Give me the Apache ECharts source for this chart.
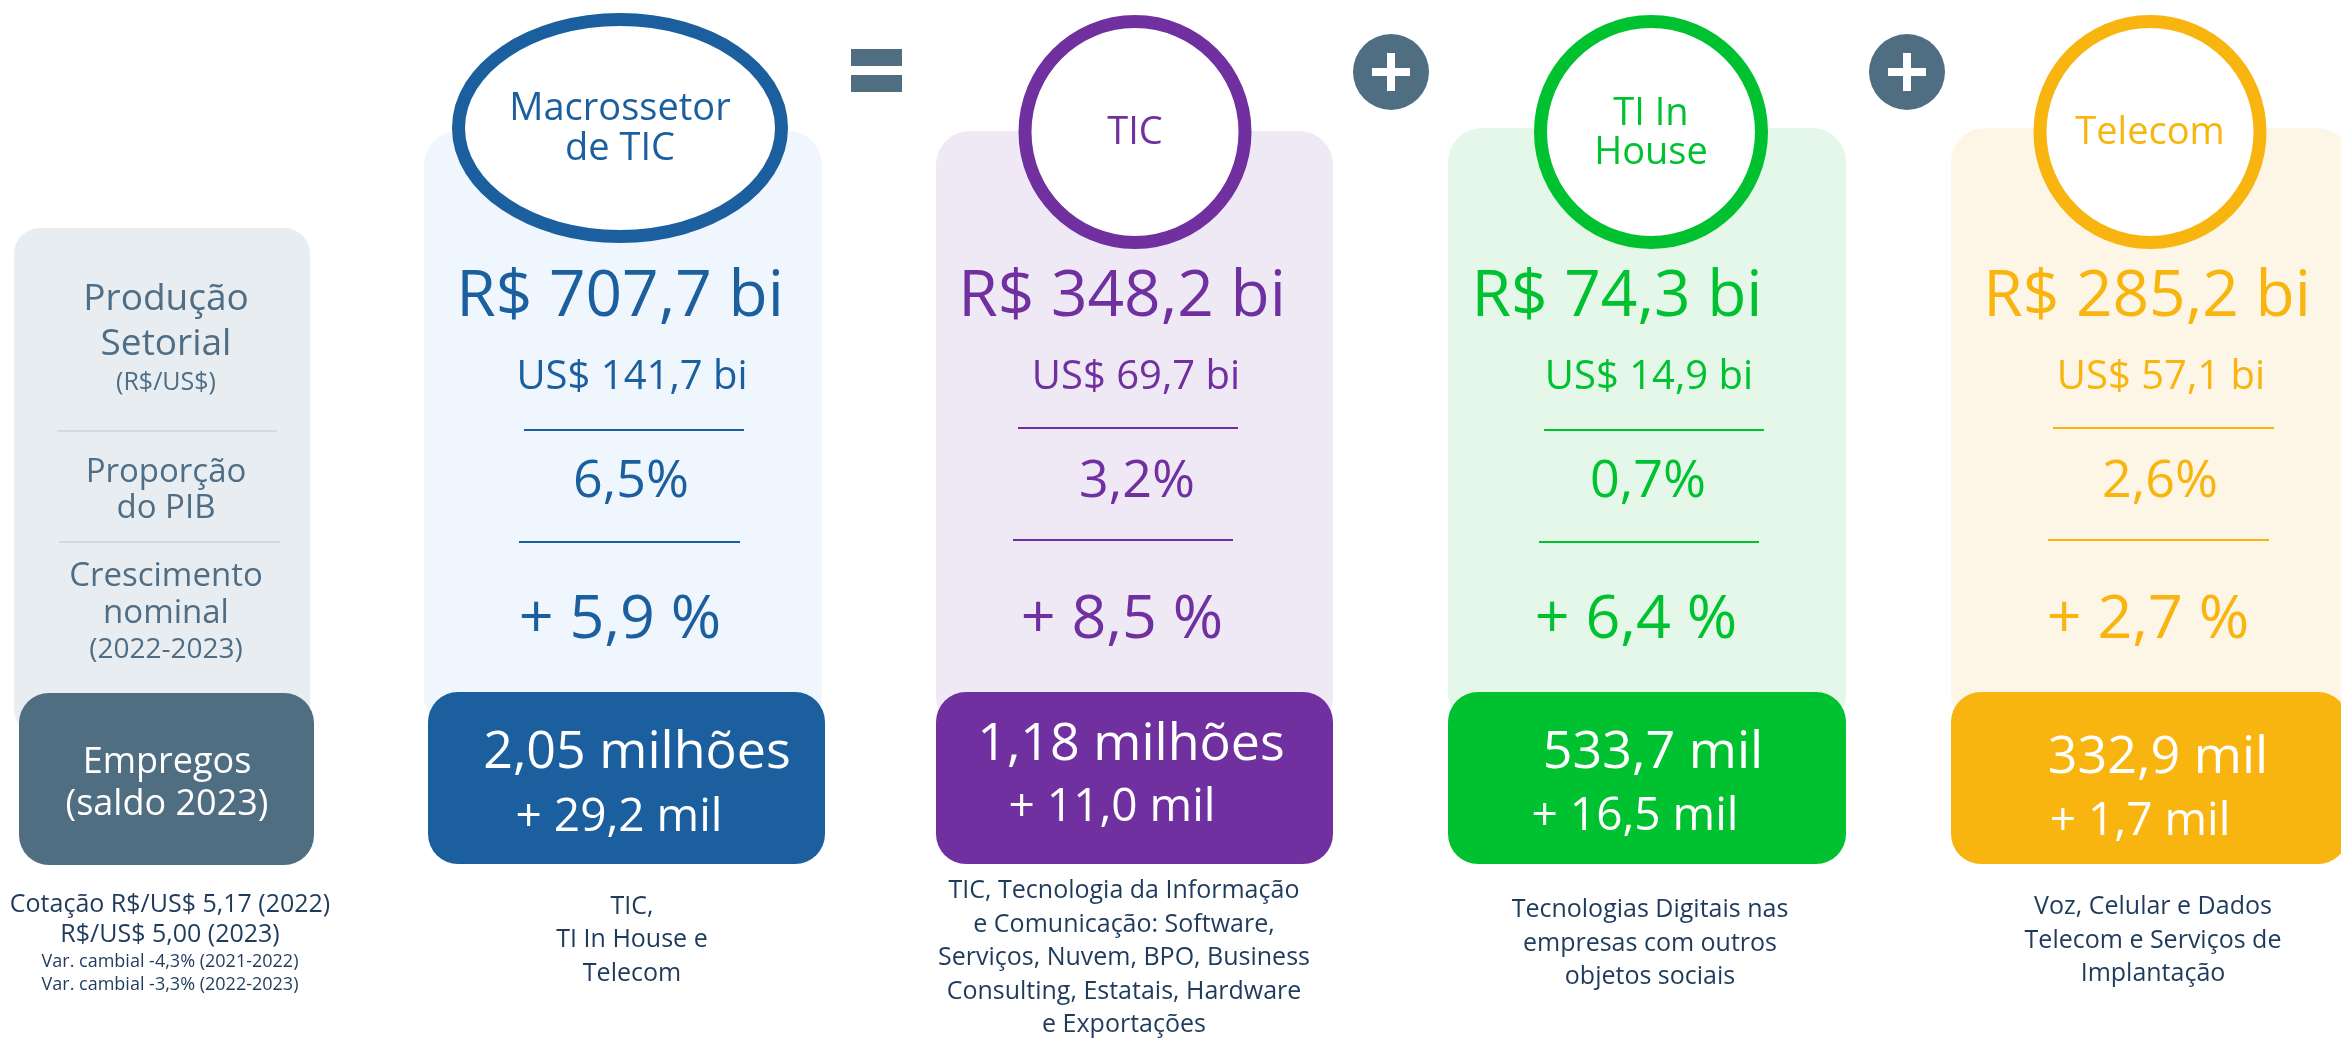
<!DOCTYPE html>
<html>
<head>
<meta charset="utf-8">
<script src="https://cdn.jsdelivr.net/npm/echarts@6/dist/echarts.min.js"></script>
<style>
  html, body { margin: 0; padding: 0; background: #fff; }
  #chart { width: 2341px; height: 1038px; }
</style>
</head>
<body>
<div id="chart"></div>
<script>
// --- data ---
const setores = [['Macrossetor', 'de TIC'], ['TIC'], ['TI In', 'House'], ['Telecom']]
const producaoReais = [707.7, 348.2, 74.3, 285.2]      // R$ bi
const producaoDolares = [141.7, 69.7, 14.9, 57.1]      // US$ bi
const proporcaoPIB = [6.5, 3.2, 0.7, 2.6]              // %
const crescimento = [5.9, 8.5, 6.4, 2.7]               // % (2022-2023)
const empregos = ['2,05 milhões', '1,18 milhões', '533,7 mil', '332,9 mil']
const saldoEmpregos = [29.2, 11.0, 16.5, 1.7]          // mil
const descricoes = [
  ['TIC,', 'TI In House e', 'Telecom'],
  ['TIC, Tecnologia da Informação', 'e Comunicação: Software,', 'Serviços, Nuvem, BPO, Business', 'Consulting, Estatais, Hardware', 'e Exportações'],
  ['Tecnologias Digitais nas', 'empresas com outros', 'objetos sociais'],
  ['Voz, Celular e Dados', 'Telecom e Serviços de', 'Implantação'],
]
const rotulosLinhas = [['Produção', 'Setorial'], '(R$/US$)', ['Proporção', 'do PIB'], ['Crescimento', 'nominal'], '(2022-2023)']
const rotuloEmpregos = ['Empregos', '(saldo 2023)']
const notasCambio = ['Cotação R$/US$ 5,17 (2022)', 'R$/US$ 5,00 (2023)']
const notasVariacao = ['Var. cambial -4,3% (2021-2022)', 'Var. cambial -3,3% (2022-2023)']

// --- styles ---
const cores = ['#1c5f9e', '#7030a0', '#00c130', '#f8b510']
const fundos = ['#f0f6fd', '#efe8f5', '#e5f7e8', '#fdf5e5']
const slate = '#506e82'
const navy = '#1f3b5c'
const FONT = '"Open Sans", "Noto Sans", sans-serif'

// --- layout (pixel positions per column) ---
const layout = [
  { panel: [424, 131, 398], box: [428, 692, 397], ring: [620, 128, 161.5, 108.5], label: [106.5, 146.5],
    rs: 620, us: 632, pib: 631, cr: 620, emp: [637, 749], sal: [619, 815],
    line1: [524, 744, 430], line2: [519, 740, 542], desc: [632, 905] },
  { panel: [936, 131, 397], box: [936, 692, 397], ring: [1135, 132, 110, 110.5], label: [130],
    rs: 1122, us: 1136, pib: 1137, cr: 1122, emp: [1131, 741], sal: [1112, 805],
    line1: [1018, 1238, 428], line2: [1013, 1233, 540], desc: [1124, 889.5] },
  { panel: [1448, 128, 398], box: [1448, 692, 398], ring: [1651, 132, 110.5, 110.5], label: [111, 150.5],
    rs: 1617, us: 1649, pib: 1648, cr: 1636, emp: [1653, 749], sal: [1635, 814],
    line1: [1544, 1764, 430], line2: [1539, 1759, 542], desc: [1650, 908.5] },
  { panel: [1951, 128, 400], box: [1951, 692, 397], ring: [2150, 132, 110, 110.5], label: [130],
    rs: 2147, us: 2161, pib: 2160, cr: 2148, emp: [2158, 754], sal: [2140, 819],
    line1: [2053, 2274, 428], line2: [2048, 2269, 540], desc: [2153, 905.5] },
]

const fmt = (v) => v.toFixed(1).replace('.', ',')

// text centred on its cap height
function txt(x, capY, text, size, color) {
  return {
    type: 'text', x, y: capY + 0.072 * size, z: 5,
    style: { text, fill: color, fontFamily: FONT, fontSize: size, align: 'center', verticalAlign: 'middle' },
  }
}

const els = []

// left legend panel
els.push({ type: 'rect', z: 1, shape: { x: 14, y: 228, width: 296, height: 507, r: 26 }, style: { fill: '#e8edf1' } })
const lc = '#4f6d84'
els.push(txt(166, 296.5, rotulosLinhas[0][0], 37, lc))
els.push(txt(166, 341.5, rotulosLinhas[0][1], 37, lc))
els.push(txt(166, 381, rotulosLinhas[1], 25, lc))
els.push({ type: 'line', z: 2, shape: { x1: 57, y1: 431, x2: 277, y2: 431 }, style: { stroke: '#d6d9dc', lineWidth: 2 } })
els.push(txt(166, 470, rotulosLinhas[2][0], 33, lc))
els.push(txt(166, 506, rotulosLinhas[2][1], 33, lc))
els.push({ type: 'line', z: 2, shape: { x1: 59, y1: 542, x2: 280, y2: 542 }, style: { stroke: '#d6d9dc', lineWidth: 2 } })
els.push(txt(166, 574, rotulosLinhas[3][0], 33, lc))
els.push(txt(166, 611, rotulosLinhas[3][1], 33, lc))
els.push(txt(166, 648, rotulosLinhas[4], 28, lc))
els.push({ type: 'rect', z: 3, shape: { x: 19, y: 693, width: 295, height: 172, r: 30 }, style: { fill: slate } })
els.push(txt(167, 760, rotuloEmpregos[0], 36, '#fff'))
els.push(txt(167, 802, rotuloEmpregos[1], 36, '#fff'))
els.push(txt(170, 903, notasCambio[0], 25, navy))
els.push(txt(170, 933, notasCambio[1], 25, navy))
els.push(txt(170, 961, notasVariacao[0], 18, navy))
els.push(txt(170, 984, notasVariacao[1], 18, navy))

// "=" and "+" signs
els.push({ type: 'rect', z: 2, shape: { x: 851, y: 49, width: 51, height: 17 }, style: { fill: slate } })
els.push({ type: 'rect', z: 2, shape: { x: 851, y: 75, width: 51, height: 17 }, style: { fill: slate } })
;[1391, 1907].forEach((cx) => {
  els.push({ type: 'circle', z: 2, shape: { cx, cy: 72, r: 38 }, style: { fill: slate } })
  els.push({ type: 'rect', z: 3, shape: { x: cx - 19, y: 68, width: 38, height: 8 }, style: { fill: '#fff' } })
  els.push({ type: 'rect', z: 3, shape: { x: cx - 4, y: 53, width: 8, height: 38 }, style: { fill: '#fff' } })
})

// sector columns
setores.forEach((nome, i) => {
  const l = layout[i]
  const c = cores[i]
  els.push({ type: 'rect', z: 1, shape: { x: l.panel[0], y: l.panel[1], width: l.panel[2], height: 600, r: 34 }, style: { fill: fundos[i] } })
  els.push({ type: 'ellipse', z: 3, shape: { cx: l.ring[0], cy: l.ring[1], rx: l.ring[2], ry: l.ring[3] }, style: { fill: '#fff', stroke: c, lineWidth: 13 } })
  nome.forEach((s, k) => els.push(txt(l.ring[0], l.label[k], s, 38, c)))
  els.push(txt(l.rs, 293.5, 'R$ ' + fmt(producaoReais[i]) + ' bi', 64, c))
  els.push(txt(l.us, 375, 'US$ ' + fmt(producaoDolares[i]) + ' bi', 40, c))
  els.push({ type: 'line', z: 2, shape: { x1: l.line1[0], y1: l.line1[2], x2: l.line1[1], y2: l.line1[2] }, style: { stroke: c, lineWidth: 2 } })
  els.push(txt(l.pib, 478, fmt(proporcaoPIB[i]) + '%', 52, c))
  els.push({ type: 'line', z: 2, shape: { x1: l.line2[0], y1: l.line2[2], x2: l.line2[1], y2: l.line2[2] }, style: { stroke: c, lineWidth: 2 } })
  els.push(txt(l.cr, 616, '+ ' + fmt(crescimento[i]) + ' %', 61, c))
  els.push({ type: 'rect', z: 3, shape: { x: l.box[0], y: l.box[1], width: l.box[2], height: 172, r: 30 }, style: { fill: c } })
  els.push(txt(l.emp[0], l.emp[1], empregos[i], 52, '#fff'))
  els.push(txt(l.sal[0], l.sal[1], '+ ' + fmt(saldoEmpregos[i]) + ' mil', 46, '#fff'))
  descricoes[i].forEach((s, k) => els.push(txt(l.desc[0], l.desc[1] + k * 33.5, s, 25, navy)))
})

const chart = echarts.init(document.getElementById('chart'), null, { renderer: 'canvas' })
chart.setOption({ animation: false, graphic: { elements: els } })
</script>
</body>
</html>
